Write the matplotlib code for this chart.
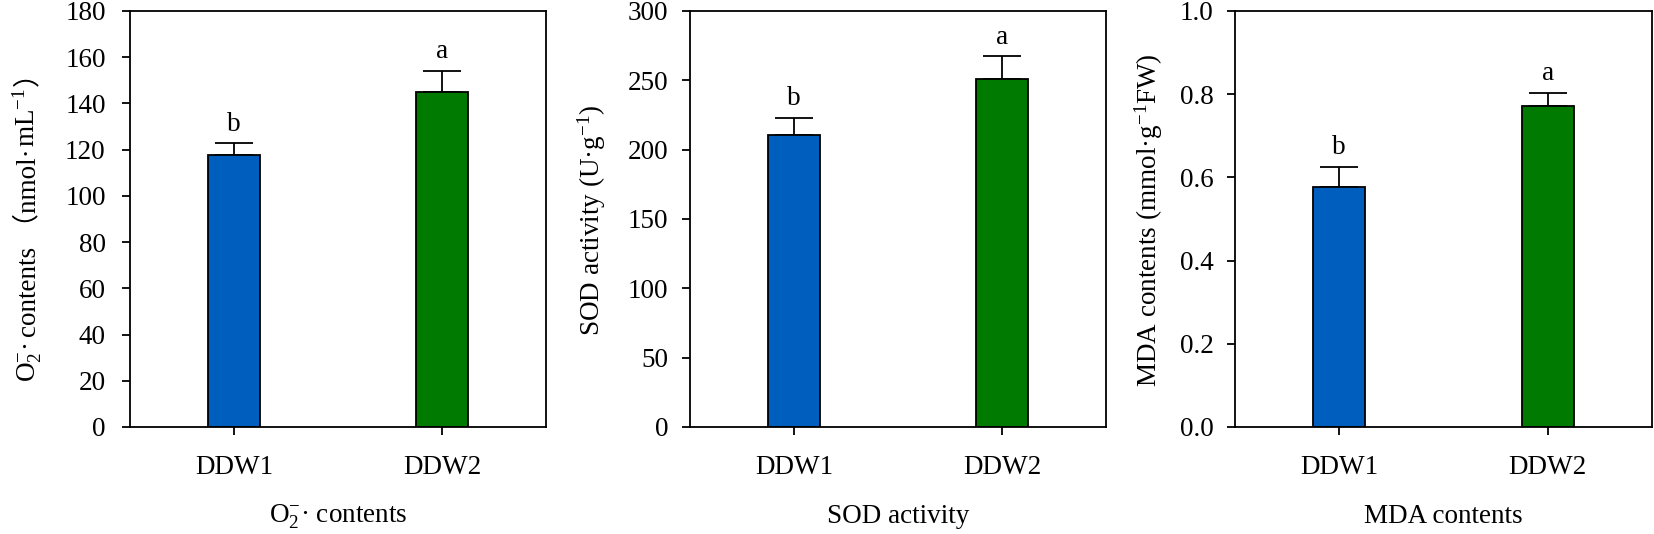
import matplotlib
matplotlib.use("Agg")
import matplotlib.pyplot as plt

plt.rcParams['font.family'] = ['Liberation Serif', 'Noto Sans CJK SC', 'DejaVu Sans']
plt.rcParams['mathtext.fontset'] = 'custom'
plt.rcParams['mathtext.rm'] = 'Liberation Serif'
plt.rcParams['mathtext.it'] = 'Liberation Serif:italic'
plt.rcParams['mathtext.bf'] = 'Liberation Serif:bold'

FS = 19.5

# data
groups = ["DDW1", "DDW2"]
o2_mean = [117.6, 144.8]
o2_err = [5.2, 9.2]
sod_mean = [210.5, 251.3]
sod_err = [12.3, 16.0]
mda_mean = [0.576, 0.772]
mda_err = [0.050, 0.031]
letters = ["b", "a"]
bar_colors = ["#005EBE", "#007A00"]

# y label pieces, drawn one after the other on one baseline
# (mathtext can not fall back to the CJK font for the full-width brackets)
o2_ylabel = [r"O$_2^{-}$· ", "contents （nmol·", r"mL$^{-1}$", "）"]
sod_ylabel = [r"SOD activity (U·g$^{-1}$)"]
mda_ylabel = [r"MDA contents (mmol·g$^{-1}$FW)"]

panels = [
    dict(mean=o2_mean, err=o2_err, ylim=(0, 180), yticks=range(0, 181, 20),
         ylabel=o2_ylabel, xlabel=r"O$_2^{-}$· contents",
         left=130, right=546, lab_x=35, pad=12, fmt="{:.0f}"),
    dict(mean=sod_mean, err=sod_err, ylim=(0, 300), yticks=range(0, 301, 50),
         ylabel=sod_ylabel, xlabel="SOD activity",
         left=690, right=1106, lab_x=600, pad=10, fmt="{:.0f}"),
    dict(mean=mda_mean, err=mda_err, ylim=(0, 1.0), yticks=[0, 0.2, 0.4, 0.6, 0.8, 1.0],
         ylabel=mda_ylabel, xlabel="MDA contents",
         left=1235, right=1652, lab_x=1157, pad=10, fmt="{:.1f}"),
]

W, H = 1654, 534
TOP, BOTTOM = 11, 427

fig = plt.figure(figsize=(W / 100, H / 100), dpi=100)
x = [1, 2]
axes = []
for p in panels:
    ax = fig.add_axes([p["left"] / W, 1 - BOTTOM / H, (p["right"] - p["left"]) / W,
                       (BOTTOM - TOP) / H])
    axes.append(ax)
    ax.bar(x, p["mean"], width=0.25, color=bar_colors, edgecolor="black",
           linewidth=1.3, zorder=2)
    ax.errorbar(x, p["mean"], yerr=[[0, 0], p["err"]], fmt="none",
                ecolor="black", elinewidth=1.3, capsize=13.5, capthick=1.3, zorder=1)
    span = p["ylim"][1] - p["ylim"][0]
    for xi, m, e, lt in zip(x, p["mean"], p["err"], letters):
        ax.text(xi, m + e + span * 0.016, lt, ha="center", va="bottom", fontsize=FS)
    ax.set_xlim(0.5, 2.5)
    ax.set_ylim(*p["ylim"])
    ax.set_yticks(list(p["yticks"]))
    ax.set_yticklabels([p["fmt"].format(v) for v in p["yticks"]])
    ax.set_xticks(x)
    ax.set_xticklabels(groups)
    ax.tick_params(axis="both", direction="out", length=5.5, width=1.3, labelsize=FS)
    ax.tick_params(axis="y", pad=p["pad"])
    ax.tick_params(axis="x", pad=15)
    for s in ax.spines.values():
        s.set_linewidth(1.3)
    ax.text(1.5, -0.216, p["xlabel"], transform=ax.get_xaxis_transform(),
            ha="center", va="center", fontsize=FS)

# rotated y labels
renderer = fig.canvas.get_renderer()
for p, ax in zip(panels, axes):
    pieces = [fig.text(0, 0, txt, rotation=90, rotation_mode="anchor", ha="left",
                       va="baseline", fontsize=FS) for txt in p["ylabel"]]
    lengths = [t.get_window_extent(renderer).height + 2 for t in pieces]
    y = H - (TOP + BOTTOM) / 2 - sum(lengths) / 2
    for t, ln in zip(pieces, lengths):
        t.set_transform(None)
        t.set_position((p["lab_x"], y))
        y += ln

fig.savefig("out.png", dpi=100)
